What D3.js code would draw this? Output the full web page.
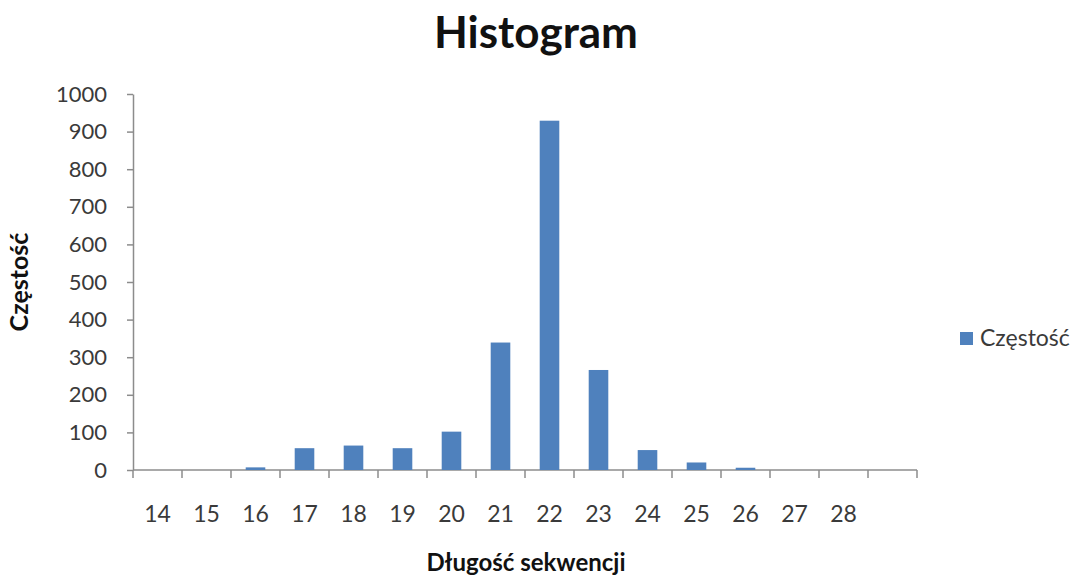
<!DOCTYPE html>
<html>
<head>
<meta charset="utf-8">
<script src="https://cdn.jsdelivr.net/npm/d3@7"></script>
<style>
  body { margin: 0; background: #fff; }
  svg { display: block; }
  text { font-family: Lato, "Open Sans", sans-serif; }
</style>
</head>
<body>
<svg id="chart" width="1075" height="579"></svg>
<script>
// Sequence lengths (bins); the last bin has an empty label
const categories = ["14", "15", "16", "17", "18", "19", "20", "21", "22", "23", "24", "25", "26", "27", "28", ""];
// Frequency per bin
const frequencies = [0, 0, 7, 58, 65, 58, 102, 339, 929, 266, 53, 20, 6, 0, 0, 0];
const yTicks = [0, 100, 200, 300, 400, 500, 600, 700, 800, 900, 1000];
const seriesName = "Częstość";

const svg = d3.select("#chart");
const margin = { left: 133, right: 158, top: 94, bottom: 109 };
const W = 1075, H = 579;

const x = d3.scaleBand()
  .domain(d3.range(categories.length))
  .range([margin.left, W - margin.right])
  .paddingInner(0.6)
  .paddingOuter(0.3);

const xTickScale = d3.scaleLinear()
  .domain([0, categories.length])
  .range([margin.left, W - margin.right]);

const y = d3.scaleLinear()
  .domain([0, 1000])
  .range([H - margin.bottom, margin.top]);

const axisColor = "#8c8c8c";
const textColor = "#3a3a3a";

// Title
svg.append("text")
  .attr("x", 536).attr("y", 48)
  .attr("text-anchor", "middle")
  .attr("font-size", 44).attr("font-weight", "bold")
  .attr("fill", "#111")
  .text("Histogram");

// Y axis
const yAxis = svg.append("g")
  .attr("transform", `translate(${margin.left},0)`)
  .call(d3.axisLeft(y).tickValues(yTicks).tickFormat(d3.format("d"))
    .tickSize(6).tickPadding(20).tickSizeOuter(0));
yAxis.select(".domain").attr("stroke", axisColor).attr("stroke-width", 1.5);
yAxis.selectAll(".tick line").attr("stroke", axisColor).attr("stroke-width", 1.5);
yAxis.selectAll(".tick text")
  .attr("font-size", 22).attr("fill", textColor)
  .attr("font-family", "Lato, 'Open Sans', sans-serif");

// X axis: ticks on bin boundaries, labels centred in bins
const xAxisG = svg.append("g")
  .attr("transform", `translate(0,${y(0)})`);
xAxisG.append("line")
  .attr("x1", margin.left).attr("x2", W - margin.right)
  .attr("stroke", axisColor).attr("stroke-width", 1.5);
xAxisG.selectAll("line.tick")
  .data(d3.range(categories.length + 1))
  .join("line")
  .attr("class", "tick")
  .attr("x1", d => xTickScale(d)).attr("x2", d => xTickScale(d))
  .attr("y1", 0).attr("y2", 8)
  .attr("stroke", axisColor).attr("stroke-width", 1.5);
xAxisG.selectAll("text")
  .data(categories)
  .join("text")
  .attr("x", (d, i) => x(i) + x.bandwidth() / 2)
  .attr("y", 52)
  .attr("text-anchor", "middle")
  .attr("font-size", 23).attr("fill", textColor)
  .text(d => d);

// Bars
svg.append("g")
  .selectAll("rect")
  .data(frequencies)
  .join("rect")
  .attr("x", (d, i) => x(i))
  .attr("y", d => y(d))
  .attr("width", x.bandwidth())
  .attr("height", d => y(0) - y(d))
  .attr("fill", "#4f81bd");

// Axis titles
svg.append("text")
  .attr("transform", `translate(28,${(y(0) + y(1000)) / 2}) rotate(-90)`)
  .attr("text-anchor", "middle")
  .attr("font-size", 25).attr("font-weight", "bold").attr("fill", "#111")
  .text("Częstość");

svg.append("text")
  .attr("x", 526).attr("y", 571)
  .attr("text-anchor", "middle")
  .attr("font-size", 24).attr("font-weight", "bold").attr("fill", "#111")
  .text("Długość sekwencji");

// Legend
const legend = svg.append("g").attr("transform", "translate(960,332)");
legend.append("rect").attr("width", 13).attr("height", 13).attr("fill", "#4f81bd");
legend.append("text")
  .attr("x", 20).attr("y", 14)
  .attr("font-size", 23).attr("fill", textColor)
  .text(seriesName);
</script>
</body>
</html>
